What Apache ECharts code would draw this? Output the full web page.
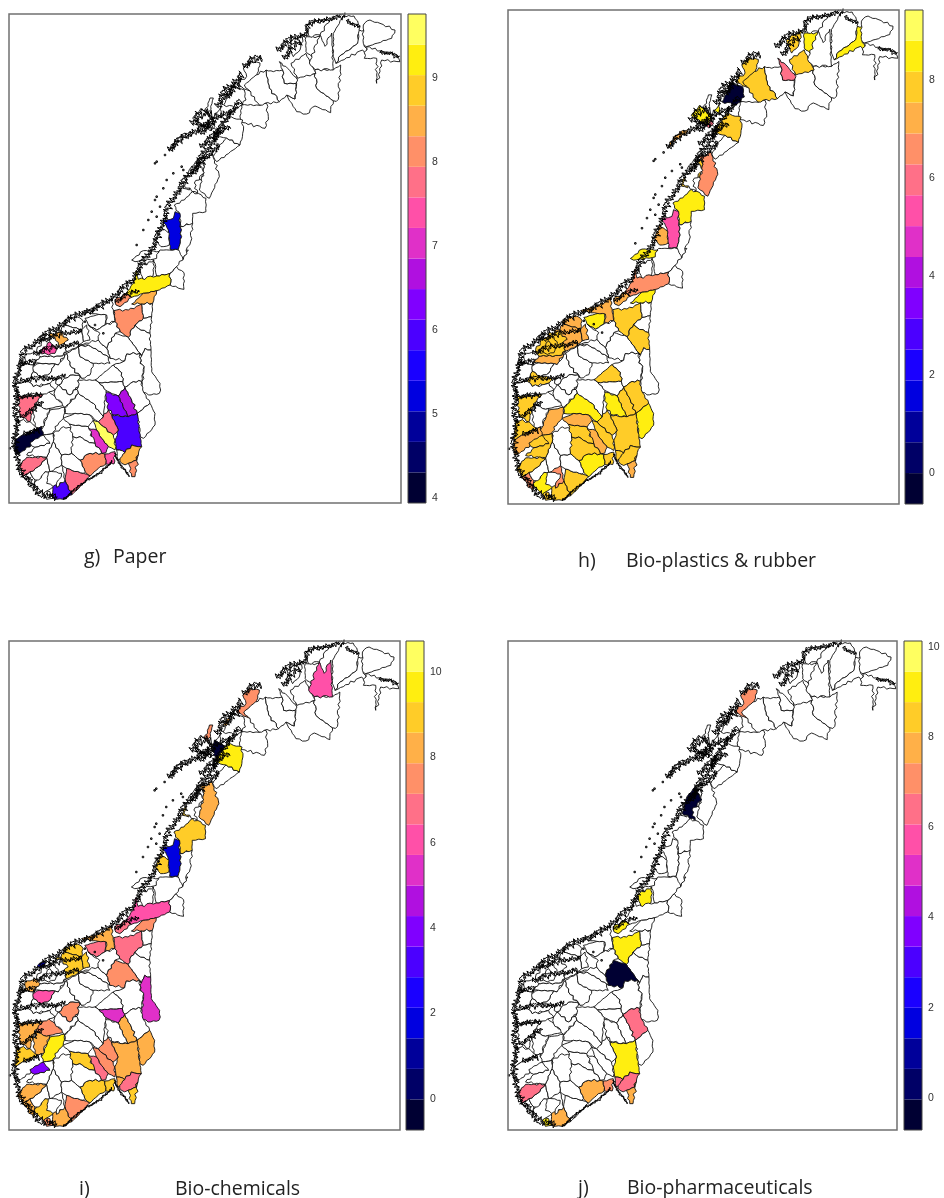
<!DOCTYPE html>
<html><head><meta charset="utf-8">
<style>html,body{margin:0;padding:0;background:#fff}#c{width:944px;height:1198px}</style>
<script src="https://cdn.jsdelivr.net/npm/echarts@6/dist/echarts.min.js"></script>
</head><body><div id="c"></div>
<script>
// ---------- colour bands (bottom to top) ----------
const bandColors=['#000033','#000066','#00009A','#0000E0','#1A00FF','#4B00FF','#8000FF','#B010E0','#E030C8','#FF50A8','#FF7088','#FF9068','#FFB048','#FFCC28','#FFEE10','#FFFF60'];

// ---------- values per panel ----------
const paperRegions=['S2','S3','S4','S5','S59','S60','S63','S64','S68','S17','S14','S18','S19','S20','S21','S22','S23','S25','S26','S27','S28','N28'];
const paperValues=[9.2,8.5,8.1,8.1,8.5,7.4,7.7,4.1,7.7,6.3,6.7,5.9,7.7,9.6,7.0,8.1,7.4,8.5,8.2,7.7,5.9,5.2];
const plasticRegions=['S2','S3','S4','S5','S8','S12','S14','S15','S16','S17','S18','S19','S20','S21','S22','S23','S24','S25','S26','S27','S28','S73','S29','S30','S31','S32','S37','S38','S39','S40','S41','S46','S53','S54','S56','S57','S58a','S58b','S59','S60','S62','S63','S64','S66','S67','S68','S71','N4','N5','N6','N7','N9','N14','N15','N16','N19','N21','N24','N25','N26','N27','N28','N30','N31','N32','N33'];
const plasticValues=[6.6,8.5,7.2,7.85,7.85,7.85,7.85,7.85,8.5,8.5,7.85,7.85,7.85,7.2,8.5,7.85,7.85,7.85,7.2,7.85,7.85,7.85,6.6,8.5,6.6,7.85,7.85,7.85,7.2,8.5,7.2,7.2,8.5,7.2,7.2,7.2,7.85,7.2,7.85,7.85,7.85,7.85,7.2,7.85,7.85,7.85,7.85,5.97,7.85,8.5,7.85,8.5,7.85,7.85,-0.3,8.5,7.85,6.6,7.85,7.85,8.5,5.34,7.2,7.2,5.97,8.5];
const chemicalRegions=['S2','S3','S4','S5','S9','S10','S13','S14','S16','S18','S19','S20','S21','S22','S23','S24','S25','S26','S27','S28','S73','S30','S31','S32','S37','S39','S43','S44','S47','S53','S54','S56','S57','S58b','S61','S63','S65','S66','S67','S68','S72','N8','N14','N17','N18','N20','N21','N24','N26','N27','N28','N30'];
const chemicalValues=[6.07,7.5,6.8,6.8,7.5,5.36,5.36,8.2,8.2,8.2,7.5,7.5,6.8,8.9,8.9,8.2,6.8,8.9,7.5,8.2,7.5,8.9,8.2,8.2,8.9,9.65,7.5,7.5,6.07,6.8,8.2,8.9,8.9,8.9,8.2,8.2,8.2,8.9,3.93,8.2,1.78,6.07,7.5,8.2,7.5,-0.37,9.65,8.2,8.9,8.9,1.78,8.9];
const pharmaRegions=['S0','S4','S5','S9','S15','S18','S22','S23','S24','S25','S26','S28','S73','S68','N14','N34'];
const pharmaValues=[9.1,9.1,9.1,-0.37,6.4,9.1,7.76,7.08,6.4,6.4,7.76,7.76,9.1,6.4,7.08,-0.37];

// ---------- colour-bar scales ----------
const paperTicks=[4,5,6,7,8,9];
const plasticTicks=[0,2,4,6,8];
const chemicalTicks=[0,2,4,6,8,10];
const pharmaTicks=[0,2,4,6,8,10];

// ---------- region outlines: northern Norway, traced units ----------
const northShapes={
N1:[860,285,885,297,890,250,890,225,945,220,950,265,1000,302,992,338,945,318,920,342,890,335],
N2:[945,208,1000,210,1022,195,1015,298,1000,302,950,265,945,220],
N3:[820,215,848,210,853,250,888,250,885,297,860,285,838,305,808,265,798,210],
N22:[720,365,795,385,805,350,800,310,770,315,725,315],
N23:[680,414,720,435,650,485,640,470,655,440],
N4:[838,185,863,205,893,240,888,250,853,250,848,210],
N5:[873,190,918,160,948,220,893,235],
N6:[918,110,963,110,943,175,918,155],
N7:[863,130,910,105,900,150,880,170],
N8:[928,189,960,104,975,139,995,99,1000,209,945,209],
N12:[1000,170,1000,100,1030,48,1062,48,1080,80,1073,130,1023,165,1008,190],
N13:[915,75,960,60,990,60,960,105,928,110],
N9:[1008,190,1023,165,1073,130,1078,90,1118,100,1093,130,1103,170,1088,150],
N10:[1090,130,1090,75,1110,60,1140,70,1185,90,1175,115,1100,140],
N11:[1130,250,1140,215,1145,180,1200,185,1190,165,1150,155,1100,140,1093,175,1130,175,1130,225],
N14:[710,254,740,229,730,204,750,184,780,189,770,229,790,254,775,279,740,269],
N15:[733,255,768,225,798,210,808,265,838,305,778,315],
N17:[670,294,695,264,690,294],
N16:[671,315,698,260,733,270,738,300,713,325],
N18:[615,334,630,294,640,294,625,344],
N19:[578,355,603,325,638,355,663,320,663,370,623,385],
N20:[635,384,645,339,690,364,650,389],
N32:[623,385,640,370,645,380,630,392],
N21:[645,404,685,349,728,360,728,400,720,435,680,414],
N24:[598,570,613,500,603,480,638,465,658,530,628,595],
N25:[573,520,608,485,613,500,603,540],
N26:[553,545,568,540,568,570,548,565],
N34:[553,559,568,509,593,479,613,519,583,549,593,579],
N27:[523,615,553,600,578,575,618,595,618,635,578,640,578,670,543,680,538,645],
N28:[490,660,520,655,525,635,540,640,540,680,545,710,535,748,510,748,505,690],
N29:[540,680,578,670,572,725,550,778,535,748,545,710],
N30:[468,720,483,680,508,700,508,735,483,740],
N31:[508,450,530,415,570,395,565,405,530,430],
N33:[395,780,430,752,478,755,470,775,405,785]
};
// ---------- region outlines: southern Norway, traced units ----------
const southShapes={
S0b:[460,20,480,0,565,0,530,50,510,70,470,78,465,40],
S0:[417,54,462,30,459,78,429,90],
S1:[510,70,530,50,552,68,552,118,510,105],
S2:[410,60,415,88,470,78,510,70,510,105,470,122,430,130,395,142,378,130,400,100],
S3:[395,162,430,130,470,122,458,160,420,162],
S4:[345,150,378,130,395,142,360,170,348,165],
S5:[342,182,385,180,425,162,430,205,405,225,385,262,360,245,345,215],
S6:[425,162,458,160,455,200,430,205],
S7:[430,205,455,200,450,250,415,235,405,225],
S8:[405,225,415,235,450,250,453,300,435,295,425,318,385,262],
S9:[345,250,385,262,425,318,420,310,380,312,375,332,330,325,320,295],
S10:[425,318,435,295,453,300,455,365,480,400,478,430,445,435,425,420,432,350,420,340],
S11:[375,332,380,312,420,310,420,340,432,350,425,395,400,395,375,412,368,395,365,368,340,345],
S12:[285,390,340,345,365,368,368,395,297,398],
S13:[297,398,368,395,375,412,355,438,318,422],
S14:[355,438,375,412,395,450,412,490,385,500],
S15:[375,412,400,395,425,395,428,420,450,460,412,490,395,450],
S16:[450,460,465,490,465,525,430,565,420,560,412,490],
S17:[315,425,355,438,385,500,345,495,325,480],
S18:[335,495,385,500,412,490,425,590,395,585,375,608,350,600,345,570,355,540],
S19:[295,515,325,480,335,495,355,540,340,555,310,530],
S20:[280,510,295,515,310,530,340,555,345,570,345,600,325,590,305,565,290,540],
S21:[265,535,290,540,305,565,325,590,318,608,305,610,285,580],
S22:[240,630,270,610,305,610,315,612,318,642,300,650,270,678,255,665],
S23:[315,612,345,605,342,642,318,642],
S24:[350,600,375,608,372,630,354,630],
S25:[360,625,375,608,395,585,425,590,415,615,410,630,385,640,365,640],
S26:[385,640,410,630,415,615,405,680,395,680],
S27:[200,655,250,670,270,678,250,700,215,735,195,690],
S28:[158,710,195,690,215,735,190,748,160,745],
S73:[130,728,150,725,160,745,140,748],
S29:[145,660,185,645,195,690,170,712,175,690,185,670,160,665],
S30:[100,700,135,665,145,665,140,700,160,710,130,730],
S31:[70,680,90,665,105,690,100,720,85,700],
S33:[115,650,140,622,150,665,135,665,115,690,105,690,90,665],
S34:[140,622,160,575,185,615,185,645,150,665],
S35:[185,615,215,610,240,630,255,665,250,670,200,655,185,645],
S36:[160,550,190,530,215,535,220,560,215,610,185,615,160,575],
S37:[208,522,265,530,285,580,268,578,240,560,218,560],
S38:[218,560,240,560,268,578,285,580,305,610,270,610,240,630,215,610],
S39:[120,550,150,480,195,472,190,505,165,530,160,565,125,555],
S40:[195,475,235,430,280,460,310,500,295,515,270,495,225,490,195,490],
S41:[190,505,225,490,270,495,280,510,265,530,208,522],
S42:[225,415,235,390,285,390,297,398,318,422,310,500,280,460,235,430],
S43:[175,405,210,375,238,375,235,410,210,435],
S44:[105,440,140,420,165,440,195,465,150,475,130,475,110,460],
S45:[165,420,175,405,210,435,235,410,225,415,235,430,195,472,165,440],
S46:[105,340,115,320,180,318,200,305,175,345,165,342,120,340],
S47:[95,350,120,340,165,342,150,370,125,380,100,365],
S49:[165,342,175,345,200,310,210,345,245,385,238,375,210,375,175,405,160,385,125,380,150,370],
S50:[200,310,235,290,240,320,280,340,270,375,245,385,210,345],
S51:[235,290,265,285,325,320,330,340,280,340,240,320],
S52:[240,285,295,270,320,295,330,325,325,320,265,285],
S53:[255,205,290,195,320,190,315,225,290,240,265,225],
S54:[245,185,300,170,335,145,345,215,318,222,320,195,270,190],
S55:[265,225,290,240,315,225,345,215,360,245,345,250,320,295,295,270,300,250],
S56:[190,215,230,200,250,215,245,240,195,225],
S57:[245,240,260,225,270,270,250,275],
S58a:[110,300,130,270,165,255,190,260,200,305,180,318,115,320],
S58b:[165,250,195,225,245,240,250,275,225,295,200,305,190,260],
S59:[145,255,180,245,205,270,175,287,165,262],
S60:[125,300,150,275,170,295,165,310,125,312],
S61:[75,315,105,305,120,320,100,345,75,340],
S62:[100,365,125,380,160,385,150,400,100,410,85,395],
S63:[55,440,70,435,90,440,130,432,105,460,90,515,60,500],
S65:[100,490,110,460,130,475,150,475,120,550,105,530],
S66:[50,510,90,515,105,530,125,530,60,560,45,570],
S64:[45,570,60,560,125,530,130,555,60,610,45,612],
S67:[90,578,130,555,160,550,150,580,105,592],
S71:[130,555,160,550,160,575,140,622,80,615,105,592,150,580],
S32:[55,660,58,645,90,665,70,680,60,665],
S68:[58,645,80,622,140,622,115,650,90,665,70,680],
S69:[45,400,85,395,100,410,130,405,150,400,165,420,130,432,55,440],
S70:[75,340,100,345,100,365,85,395,45,400,60,350],
S72:[112,270,120,258,138,256,132,270]
};
// ---------- coastline traces that get the fjord fringe: [strength, x,y, x,y, ...] ----------
const coastTraces=[
[1,170,1495,120,1480,95,1455,65,1415,50,1375,45,1330,50,1270,48,1200,48,1150,60,1090,72,1055,115,1020,160,990,195,965,245,940,300,920,345,885,395,845,410,815,440,770,470,720,490,660,510,610,535,570,570,520,600,480,640,420,660,390],
[0.8,60,1140,140,1135,200,1130],[0.8,50,1190,130,1185],[0.8,60,1250,100,1230,130,1200],[0.8,130,1020,190,1000,250,990],[0.8,100,1060,170,1040,240,1030],[0.7,345,905,380,885,420,870],[0.8,70,1300,120,1290],[0.8,55,1090,110,1085],
[0.35,190,1498,260,1440,300,1420,340,1380],[0.3,345,1360,358,1392,392,1432],
[1,505,450,540,420,580,395,650,360],[1.3,575,372,600,340,640,345],[1,600,400,650,350,700,330],[1.2,650,320,680,270,730,220],[1.1,675,290,720,250],[1,830,150,870,120,910,100],[1,850,175,880,140,905,125],[1,730,200,760,175,790,180],[0.9,640,420,690,340,725,300],[0.9,600,440,650,400,690,375],[1,575,520,620,470,660,430],[0.8,910,110,930,70,990,55,1040,48],[0.6,1040,60,1080,85],[0.6,1140,155,1170,160,1200,175],[0.7,590,370,640,385]
];
const notchPattern=[4,-9,2,-3,11,-5,7,-1,9,-12,3,-4,13,-2,5,-8,1,6,-10,3,-2,8,-6];
const islets=[[465,490],[470,485],[495,465],[470,590],[490,565],[465,600],[445,660],[430,690],[410,735],[500,540],[480,620],[455,635],[310,1000],[285,975],[255,965],[30,1345],[520,520],[545,500],[470,650],[550,510]];

// ---------- panel layout (pixels) and bounds in traced units ----------
const traced={x0:27,x1:1203,y0:42,y1:1509};
const panels=[
 {key:'g',regions:paperRegions,values:paperValues,box:[9,14,392,489],bar:[408,14,18,489],range:[3.94,9.77],ticks:paperTicks},
 {key:'h',regions:plasticRegions,values:plasticValues,box:[508,10,391,494],bar:[905,10,18,494],range:[-0.63,9.42],ticks:plasticTicks},
 {key:'i',regions:chemicalRegions,values:chemicalValues,box:[9,641,391,489],bar:[406,641,18,489],range:[-0.73,10.73],ticks:chemicalTicks},
 {key:'j',regions:pharmaRegions,values:pharmaValues,box:[508,641,389,489],bar:[904,641,18,489],range:[-0.71,10.13],ticks:pharmaTicks}
];
const captions=[['g)',84,547],['Paper',113,547],['h)',578,551],['Bio-plastics & rubber',626,551],['i)',79,1179],['Bio-chemicals',175,1179],['j)',578,1178],['Bio-pharmaceuticals',627,1178]];

// edges get a small wobble; same wobble for a shared edge whichever way it is walked
function wobbleEdge(ax,ay,bx,by){
  const flip=(ax>bx)||(ax===bx&&ay>by);
  const x0=flip?bx:ax,y0=flip?by:ay,x1=flip?ax:bx,y1=flip?ay:by;
  const len=Math.hypot(x1-x0,y1-y0),steps=Math.max(1,Math.round(len/9));
  const nx=-(y1-y0)/(len||1),ny=(x1-x0)/(len||1),seed=Math.abs(Math.round(x0*7+y0*13+x1*3+y1));
  const pts=[];
  for(let s=0;s<=steps;s++){
    const t=s/steps,env=Math.sin(Math.PI*t),k=notchPattern[(seed+s*3)%notchPattern.length]*0.35*env;
    pts.push([x0+(x1-x0)*t+nx*k,y0+(y1-y0)*t+ny*k]);
  }
  if(flip)pts.reverse();
  pts.pop();
  return pts;
}
function ring(flat,dy){
  const n=flat.length/2,r=[];
  for(let i=0;i<n;i++){
    const j=(i+1)%n;
    wobbleEdge(flat[2*i],flat[2*i+1]+dy,flat[2*j],flat[2*j+1]+dy).forEach(p=>r.push([p[0],-p[1]]));
  }
  r.push(r[0]);return r;
}
const features=[];
for(const k in southShapes)features.push({type:'Feature',properties:{name:k},geometry:{type:'Polygon',coordinates:[ring(southShapes[k],750)]}});
for(const k in northShapes)features.push({type:'Feature',properties:{name:k},geometry:{type:'Polygon',coordinates:[ring(northShapes[k],0)]}});
const regionJson={type:'FeatureCollection',features};

function fringe(trace){ // jagged outline strip along a coast trace
  const up=[],down=[];let n=0;const amp=trace[0];
  for(let i=1;i+3<trace.length;i+=2){
    const ax=trace[i],ay=trace[i+1],bx=trace[i+2],by=trace[i+3];
    const len=Math.hypot(bx-ax,by-ay),steps=Math.max(1,Math.round(len/4));
    const nx=-(by-ay)/len,ny=(bx-ax)/len;
    for(let s=0;s<steps;s++){
      const t=s/steps,px=ax+(bx-ax)*t,py=ay+(by-ay)*t,L=notchPattern.length;
      const a=notchPattern[n%L]*amp,b=notchPattern[(n*2+5)%L]*amp;n++;
      up.push([px+nx*a,-(py+ny*a)]);down.push([px-nx*b,-(py-ny*b)]);
    }
  }
  const r=up.concat(down.reverse());r.push(r[0]);return [r];
}
const coastPolys=coastTraces.map(fringe);
islets.forEach(p=>{const s=2.2;coastPolys.push([[[p[0]-s,-p[1]-s],[p[0]+s,-p[1]-s],[p[0]+s,-p[1]+s],[p[0]-s,-p[1]+s],[p[0]-s,-p[1]-s]]]);});
const coastJson={type:'FeatureCollection',features:[{type:'Feature',properties:{name:'coast'},geometry:{type:'MultiPolygon',coordinates:coastPolys}}]};

const chart=echarts.init(document.getElementById('c'),null,{renderer:'canvas'});
const series=[],visualMap=[],grid=[],xAxis=[],yAxis=[],graphic=[];
const bounds=[[traced.x0,-traced.y0],[traced.x1,-traced.y1]];
panels.forEach((p,idx)=>{
  echarts.registerMap('regions_'+p.key,regionJson);
  echarts.registerMap('coast_'+p.key,coastJson);
  const layout={left:p.box[0],top:p.box[1],width:p.box[2],height:p.box[3],boundingCoords:bounds,aspectScale:1,roam:false,silent:true,selectedMode:false,emphasis:{disabled:true},select:{disabled:true},label:{show:false}};
  const mapIdx=series.length;
  series.push(Object.assign({type:'map',map:'regions_'+p.key,z:2,
    itemStyle:{areaColor:'#fff',borderColor:'#111',borderWidth:0.9},
    data:p.regions.map((n,i)=>({name:n,value:p.values[i]}))},layout));
  series.push(Object.assign({type:'map',map:'coast_'+p.key,z:3,
    itemStyle:{areaColor:'rgba(0,0,0,0)',borderColor:'#000',borderWidth:1},data:[]},layout));
  const step=(p.range[1]-p.range[0])/16;
  const bands=bandColors.map((c,i)=>[p.range[0]+i*step,p.range[0]+(i+1)*step,i]);
  visualMap.push({type:'piecewise',show:false,seriesIndex:mapIdx,dimension:0,
    pieces:bands.map(b=>({gte:b[0],lt:b[1],color:bandColors[b[2]]}))});
  grid.push({left:p.bar[0],top:p.bar[1],width:p.bar[2],height:p.bar[3],containLabel:false});
  xAxis.push({type:'value',gridIndex:idx,min:0,max:1,show:false});
  yAxis.push({type:'value',gridIndex:idx,position:'right',min:p.range[0],max:p.range[1],splitLine:{show:false},
    axisLine:{show:false},
    axisTick:{show:true,length:4,customValues:p.ticks,lineStyle:{color:'#333',width:1}},
    axisLabel:{show:true,customValues:p.ticks,color:'#333',fontSize:10.5,fontFamily:'Liberation Sans',margin:6,formatter:v=>String(Math.round(v))}});
  series.push({type:'custom',xAxisIndex:idx,yAxisIndex:idx,silent:true,z:2,data:bands,
    encode:{y:[0,1]},
    renderItem:(params,api)=>{
      const a=api.coord([0,api.value(0)]),b=api.coord([1,api.value(1)]);
      return {type:'rect',shape:{x:a[0],y:b[1],width:b[0]-a[0],height:a[1]-b[1]},style:{fill:bandColors[api.value(2)]}};
    }});
  graphic.push({type:'rect',silent:true,z:10,shape:{x:p.box[0],y:p.box[1],width:p.box[2],height:p.box[3]},style:{fill:'none',stroke:'#707070',lineWidth:1.5}});
  graphic.push({type:'rect',silent:true,z:10,shape:{x:p.bar[0],y:p.bar[1],width:p.bar[2],height:p.bar[3]},style:{fill:'none',stroke:'#444',lineWidth:1}});
});
const title=captions.map(c=>({text:c[0],left:c[1],top:c[2],padding:0,textStyle:{fontFamily:'Open Sans',fontSize:19.5,fontWeight:'normal',color:'#222'}}));
chart.setOption({animation:false,backgroundColor:'#fff',title,grid,xAxis,yAxis,visualMap,series,graphic});
</script></body></html>
